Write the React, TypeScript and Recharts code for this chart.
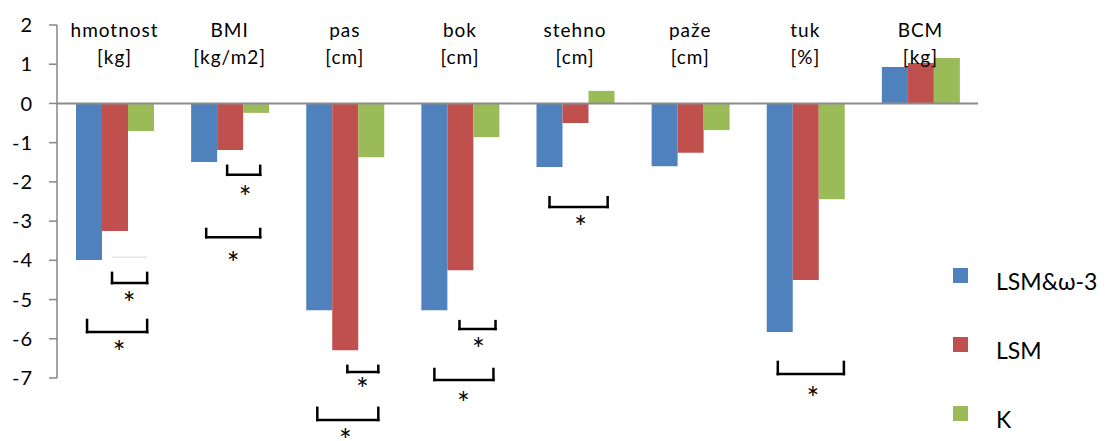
import {
  ComposedChart,
  Bar,
  XAxis,
  YAxis,
  ReferenceLine,
  ReferenceDot,
  Legend,
} from "recharts"

const categories = ["hmotnost", "BMI", "pas", "bok", "stehno", "paže", "tuk", "BCM"]
const units = ["[kg]", "[kg/m2]", "[cm]", "[cm]", "[cm]", "[cm]", "[%]", "[kg]"]

const lsmOmega = [-3.99, -1.49, -5.27, -5.27, -1.62, -1.6, -5.83, 0.93]
const lsm = [-3.25, -1.19, -6.29, -4.25, -0.5, -1.26, -4.5, 1.03]
const control = [-0.7, -0.24, -1.37, -0.86, 0.32, -0.68, -2.44, 1.16]

const yTicks = [-7, -6, -5, -4, -3, -2, -1, 0, 1, 2]

// significance brackets, x in category units (0..8), y in data units
const brackets = [
  { x1: 0.478, x2: 0.783, top: -4.32, bottom: -4.58 },
  { x1: 0.261, x2: 0.783, top: -5.52, bottom: -5.83 },
  { x1: 1.478, x2: 1.765, top: -1.59, bottom: -1.82 },
  { x1: 1.296, x2: 1.765, top: -3.2, bottom: -3.41 },
  { x1: 2.522, x2: 2.791, top: -6.69, bottom: -6.85 },
  { x1: 2.261, x2: 2.791, top: -7.76, bottom: -8.07 },
  { x1: 3.496, x2: 3.809, top: -5.55, bottom: -5.75 },
  { x1: 3.278, x2: 3.791, top: -6.77, bottom: -7.05 },
  { x1: 4.278, x2: 4.783, top: -2.39, bottom: -2.64 },
  { x1: 6.261, x2: 6.835, top: -6.59, bottom: -6.9 },
]

const asterisks = [
  { x: 0.626, y: -4.94 },
  { x: 0.539, y: -6.18 },
  { x: 1.635, y: -2.23 },
  { x: 1.53, y: -3.92 },
  { x: 2.652, y: -7.13 },
  { x: 2.504, y: -8.42 },
  { x: 3.661, y: -6.11 },
  { x: 3.53, y: -7.48 },
  { x: 4.548, y: -3.0 },
  { x: 6.565, y: -7.36 },
]

const series = [
  { key: "lsmOmega", name: "LSM&ω-3", color: "#4F81BD" },
  { key: "lsm", name: "LSM", color: "#C0504D" },
  { key: "k", name: "K", color: "#9BBB59" },
]

const data = categories.map((name, i) => ({
  name,
  slot: i + 0.5,
  lsmOmega: lsmOmega[i],
  lsm: lsm[i],
  k: control[i],
}))

const FONT = "Lato, 'Open Sans', sans-serif"

function CategoryTick(props: any) {
  const { x, y, payload } = props
  const style = { fontFamily: FONT, fontSize: 19, letterSpacing: 1, fill: "#000" }
  return (
    <g>
      <text x={x} y={y + 12} textAnchor="middle" style={style}>
        {payload.value}
      </text>
      <text x={x} y={y + 39} textAnchor="middle" style={style}>
        {units[payload.index]}
      </text>
    </g>
  )
}

function Asterisk(props: any) {
  const { cx, cy } = props
  return (
    <text
      x={cx}
      y={cy + 17}
      textAnchor="middle"
      style={{ fontFamily: FONT, fontSize: 30, fill: "#000" }}
    >
      *
    </text>
  )
}

function LegendBox() {
  return (
    <div style={{ fontFamily: FONT }}>
      {series.map((s) => (
        <div key={s.key} style={{ position: "relative", height: 69 }}>
          <div
            style={{
              position: "absolute",
              left: 0,
              top: 0,
              width: 15,
              height: 15,
              background: s.color,
            }}
          />
          <div
            style={{
              position: "absolute",
              left: 43,
              top: 2,
              fontSize: 23,
              lineHeight: "23px",
              color: "#000",
              whiteSpace: "nowrap",
            }}
          >
            {s.name}
          </div>
        </div>
      ))}
    </div>
  )
}

export default function App() {
  return (
    <div style={{ position: "absolute", left: 0, top: 0, background: "#fff" }}>
      <ComposedChart
        width={1109}
        height={441}
        data={data}
        margin={{ top: 0, right: 131, bottom: 63, left: 0 }}
        barCategoryGap="16.5%"
        barGap={0}
      >
        <XAxis
          dataKey="name"
          orientation="top"
          height={25}
          axisLine={false}
          tickLine={false}
          tickSize={0}
          tickMargin={0}
          interval={0}
          tick={<CategoryTick />}
        />
        <XAxis
          xAxisId="num"
          dataKey="slot"
          type="number"
          domain={[0, 8]}
          allowDataOverflow
          hide
        />
        <YAxis
          type="number"
          domain={[-7, 2]}
          ticks={yTicks}
          interval={0}
          width={57}
          tickSize={8}
          tickMargin={16}
          axisLine={{ stroke: "#868686", strokeWidth: 1.5 }}
          tickLine={{ stroke: "#868686", strokeWidth: 1.5 }}
          tick={{ fontFamily: FONT, fontSize: 20, letterSpacing: 1, fill: "#000" }}
        />
        {series.map((s) => (
          <Bar
            key={s.key}
            dataKey={s.key}
            name={s.name}
            fill={s.color}
            isAnimationActive={false}
          />
        ))}
        <ReferenceLine y={0} stroke="#8c8c8c" strokeWidth={2} />
        <ReferenceLine
          xAxisId="num"
          segment={[
            { x: 0.478, y: -3.92 },
            { x: 0.783, y: -3.92 },
          ]}
          stroke="#d9d9d9"
          strokeWidth={1}
          ifOverflow="visible"
        />
        {brackets.map((b, i) => [
          <ReferenceLine
            key={`l${i}`}
            xAxisId="num"
            segment={[
              { x: b.x1, y: b.top },
              { x: b.x1, y: b.bottom },
            ]}
            stroke="#000"
            strokeWidth={2.5}
            strokeLinecap="square"
            ifOverflow="visible"
          />,
          <ReferenceLine
            key={`b${i}`}
            xAxisId="num"
            segment={[
              { x: b.x1, y: b.bottom },
              { x: b.x2, y: b.bottom },
            ]}
            stroke="#000"
            strokeWidth={2.5}
            strokeLinecap="square"
            ifOverflow="visible"
          />,
          <ReferenceLine
            key={`r${i}`}
            xAxisId="num"
            segment={[
              { x: b.x2, y: b.top },
              { x: b.x2, y: b.bottom },
            ]}
            stroke="#000"
            strokeWidth={2.5}
            strokeLinecap="square"
            ifOverflow="visible"
          />,
        ])}
        {asterisks.map((a, i) => (
          <ReferenceDot
            key={`a${i}`}
            xAxisId="num"
            x={a.x}
            y={a.y}
            r={0}
            ifOverflow="visible"
            shape={<Asterisk />}
          />
        ))}
        <Legend
          layout="horizontal"
          verticalAlign="middle"
          align="center"
          wrapperStyle={{ left: 953, top: 268, width: 156 }}
          content={<LegendBox />}
        />
      </ComposedChart>
    </div>
  )
}
